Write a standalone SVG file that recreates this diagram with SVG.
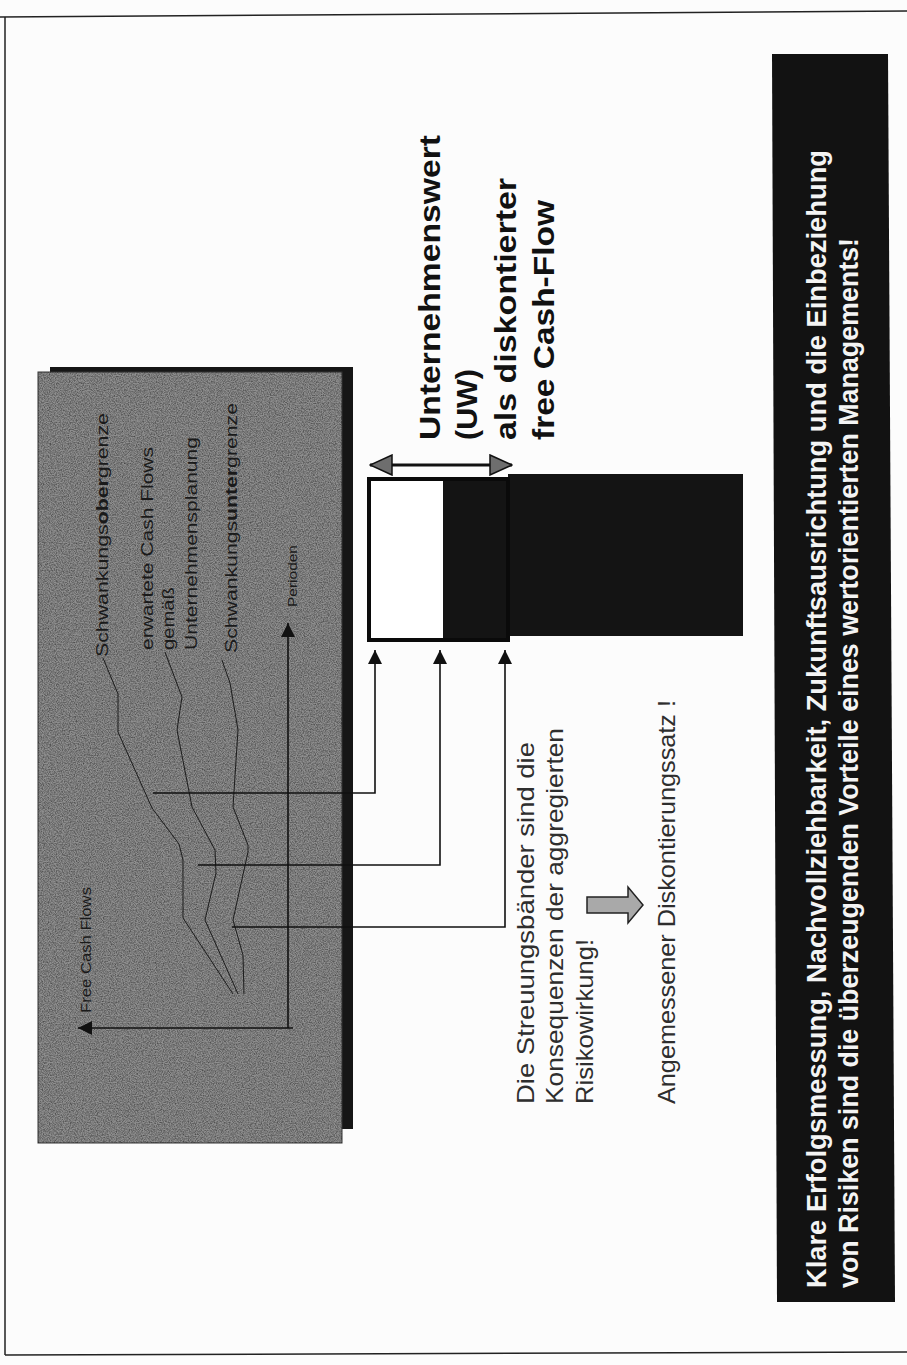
<svg xmlns="http://www.w3.org/2000/svg" width="907" height="1365" viewBox="0 0 907 1365">
  <style>
    .frame { stroke: #222; stroke-width: 1.5; fill: none; }
    .lbl { font-family: "Liberation Sans", Arial, sans-serif; fill: #1a1a1a; }
    .title { font-family: "Liberation Sans", Arial, sans-serif; font-weight: bold; font-size: 29px; fill: #111; }
    .note { font-family: "Liberation Sans", Arial, sans-serif; font-size: 24px; fill: #2e2e2e; }
    .banner { font-family: "Liberation Sans", Arial, sans-serif; font-weight: bold; font-size: 27px; fill: #f4f4f4; }
    .curve { fill: none; stroke: #1c1c1c; stroke-width: 1; stroke-linejoin: round; }
    .conn { fill: none; stroke: #111; stroke-width: 1.6; }
    .axis { fill: none; stroke: #111; stroke-width: 1.6; }
  </style>
  <defs>
    <marker id="tip" markerUnits="userSpaceOnUse" viewBox="0 0 14 14" refX="14" refY="7" markerWidth="14" markerHeight="14" orient="auto">
      <path d="M0,0 L14,7 L0,14 z" fill="#111"/>
    </marker>
    <marker id="bighead" markerUnits="userSpaceOnUse" viewBox="-1 -1 24 22" refX="22" refY="10" markerWidth="24" markerHeight="22" orient="auto-start-reverse">
      <path d="M0,0 L22,10 L0,20 z" fill="#6e6e6e" stroke="#111" stroke-width="1.5"/>
    </marker>
    <filter id="grain" x="0" y="0" width="1" height="1">
      <feTurbulence type="fractalNoise" baseFrequency="0.85" numOctaves="2" seed="7" result="n"/>
      <feColorMatrix in="n" type="matrix" values="0 0 0 0 0  0 0 0 0 0  0 0 0 0 0  0.9 0 0 0 -0.3"/>
      <feComposite operator="in" in2="SourceGraphic"/>
    </filter>
  </defs>

  <!-- page -->
  <rect x="0" y="0" width="907" height="1365" fill="#fcfcfc"/>
  <g id="page-frame">
    <path class="frame" d="M0,17 L907,11"/>
    <path class="frame" d="M5,17 L5,1355"/>
    <path class="frame" d="M5,1355 L907,1352"/>
  </g>

  <!-- chart panel with drop shadow -->
  <g id="chart-panel">
    <rect x="50" y="367" width="303" height="762" fill="#161616"/>
    <rect x="38" y="372" width="304" height="771" fill="#8f8f8f" stroke="#333" stroke-width="1"/>
    <rect x="38" y="372" width="304" height="771" fill="#8f8f8f" filter="url(#grain)"/>
  </g>

  <g id="curves">
    <polyline class="curve" points="103,658 118,694 118,732 152,808 179,844 183,860 183,918 233,994"/>
    <polyline class="curve" points="165,652 182,697 177,730 192,807 215,850 216,873 205,920 238,994"/>
    <polyline class="curve" points="222,660 230,683 238,730 233,807 248,845 248,852 233,920 243,955 244,994"/>
  </g>

  <g id="chart-labels" class="lbl">
    <text font-size="17" transform="translate(108,657) rotate(-90)" textLength="244" lengthAdjust="spacingAndGlyphs">Schwankungs<tspan font-weight="bold">ober</tspan>grenze</text>
    <text font-size="17" transform="translate(153,650) rotate(-90)" textLength="203" lengthAdjust="spacingAndGlyphs">erwartete Cash Flows</text>
    <text font-size="17" transform="translate(174,650) rotate(-90)" textLength="63" lengthAdjust="spacingAndGlyphs">gemäß</text>
    <text font-size="17" transform="translate(197,650) rotate(-90)" textLength="213" lengthAdjust="spacingAndGlyphs">Unternehmensplanung</text>
    <text font-size="17" transform="translate(237,653) rotate(-90)" textLength="250" lengthAdjust="spacingAndGlyphs">Schwankungs<tspan font-weight="bold">unter</tspan>grenze</text>
    <text font-size="12" transform="translate(297,607) rotate(-90)" textLength="62" lengthAdjust="spacingAndGlyphs">Perioden</text>
    <text font-size="14" transform="translate(91,1013) rotate(-90)" textLength="126" lengthAdjust="spacingAndGlyphs">Free Cash Flows</text>
  </g>

  <!-- value block: white part, black part, extension -->
  <g id="value-block">
    <rect x="508" y="474" width="235" height="162" fill="#141414"/>
    <rect x="369" y="479" width="139" height="161" fill="#ffffff"/>
    <rect x="443" y="479" width="65" height="161" fill="#141414"/>
    <rect x="369" y="479" width="139" height="161" fill="none" stroke="#0a0a0a" stroke-width="4"/>
  </g>

  <g id="connectors">
    <path class="axis" d="M288,1028 V623" marker-end="url(#tip)"/>
    <path class="axis" d="M293,1028 H78" marker-end="url(#tip)"/>
    <path class="conn" d="M153,793 H375 V650" marker-end="url(#tip)"/>
    <path class="conn" d="M198,865 H440 V650" marker-end="url(#tip)"/>
    <path class="conn" d="M232,927 H505 V650" marker-end="url(#tip)"/>
    <path d="M370,465 H512" fill="none" stroke="#111" stroke-width="3" marker-start="url(#bighead)" marker-end="url(#bighead)"/>
  </g>

  <g id="value-title" class="title">
    <text transform="translate(440,440) rotate(-90)" textLength="305" lengthAdjust="spacingAndGlyphs">Unternehmenswert</text>
    <text transform="translate(477,440) rotate(-90)" textLength="71" lengthAdjust="spacingAndGlyphs">(UW)</text>
    <text transform="translate(516,440) rotate(-90)" textLength="262" lengthAdjust="spacingAndGlyphs">als diskontierter</text>
    <text transform="translate(554,440) rotate(-90)" textLength="240" lengthAdjust="spacingAndGlyphs">free Cash-Flow</text>
  </g>

  <g id="risk-note" class="note">
    <text transform="translate(534,1104) rotate(-90)" textLength="362" lengthAdjust="spacingAndGlyphs">Die Streuungsbänder sind die</text>
    <text transform="translate(563,1104) rotate(-90)" textLength="376" lengthAdjust="spacingAndGlyphs">Konsequenzen der aggregierten</text>
    <text transform="translate(593,1104) rotate(-90)" textLength="165" lengthAdjust="spacingAndGlyphs">Risikowirkung!</text>
  </g>

  <g id="block-arrow">
    <polygon points="587,897 628,897 628,887 643,905 628,923 628,913 587,913" fill="#a9a9a9" stroke="#222" stroke-width="1.5" stroke-linejoin="miter"/>
  </g>

  <g id="discount-note" class="note">
    <text transform="translate(675,1104) rotate(-90)" textLength="404" lengthAdjust="spacingAndGlyphs">Angemessener Diskontierungssatz !</text>
  </g>

  <g id="summary-banner">
    <polygon points="772,54 888,54 895,1302 777,1302" fill="#121212"/>
    <text class="banner" transform="translate(826,1288) rotate(-90)" textLength="1138" lengthAdjust="spacingAndGlyphs">Klare Erfolgsmessung, Nachvollziehbarkeit, Zukunftsausrichtung und die Einbeziehung</text>
    <text class="banner" transform="translate(858,1288) rotate(-90)" textLength="1050" lengthAdjust="spacingAndGlyphs">von Risiken sind die überzeugenden Vorteile eines wertorientierten Managements!</text>
  </g>
</svg>
